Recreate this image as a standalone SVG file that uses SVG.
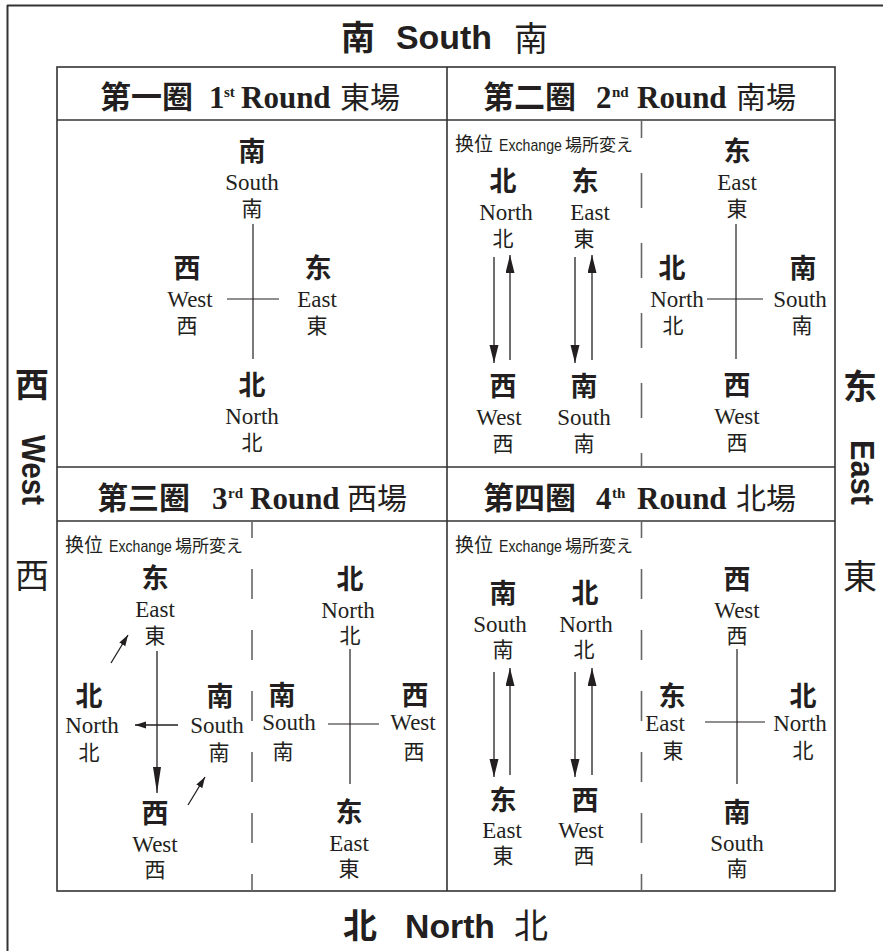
<svg xmlns="http://www.w3.org/2000/svg" width="883" height="951" viewBox="0 0 883 951">
<style>
text{fill:#231f20}
.b{font-family:"Noto Sans CJK SC","Noto Sans CJK JP",sans-serif;font-weight:700;font-size:27px;text-anchor:middle}
.e{font-family:"Liberation Serif",serif;font-size:23px;text-anchor:middle}
.r{font-family:"Noto Sans CJK JP",sans-serif;font-size:21px;text-anchor:middle}
.hc{font-family:"Noto Sans CJK SC",sans-serif;font-weight:700;font-size:31px}
.hs{font-family:"Liberation Serif",serif;font-weight:700;font-size:31px}
.hu{font-family:"Liberation Serif",serif;font-weight:700;font-size:15px}
.hj{font-family:"Noto Sans CJK JP",sans-serif;font-size:30px}
.xc{font-family:"Noto Sans CJK SC",sans-serif;font-size:19px}
.xe{font-family:"Liberation Sans",sans-serif;font-size:17px}
.xj{font-family:"Noto Sans CJK JP",sans-serif;font-size:17px}
.ob{font-family:"Noto Sans CJK SC",sans-serif;font-weight:700;font-size:34px;text-anchor:middle}
.or{font-family:"Noto Sans CJK JP",sans-serif;font-size:34px;text-anchor:middle}
.oe{font-family:"Liberation Sans",sans-serif;font-weight:700;font-size:34px}
.frame{stroke:#333;stroke-width:2;fill:none}
.grid{stroke:#333;stroke-width:1.6;fill:none}
.cross{stroke:#231f20;stroke-width:1.2;fill:none}
.dash{stroke:#666;stroke-width:1.6;fill:none}
.arr{stroke:#231f20;stroke-width:1.3;fill:none}
</style>
<defs>
<marker id="ah" markerUnits="userSpaceOnUse" markerWidth="18" markerHeight="10" refX="18" refY="4.5" orient="auto"><path d="M0,0 L18,4.5 L0,9 z" fill="#231f20"/></marker>
<marker id="ahl" markerUnits="userSpaceOnUse" markerWidth="26" markerHeight="9" refX="26" refY="4" orient="auto"><path d="M0,0 L26,4 L0,8 z" fill="#231f20"/></marker>
<marker id="ahs" markerUnits="userSpaceOnUse" markerWidth="11" markerHeight="8" refX="11" refY="3.5" orient="auto"><path d="M0,0 L11,3.5 L0,7 z" fill="#231f20"/></marker>
</defs>

<g id="frame">
<line class="frame" x1="7" y1="5.5" x2="883" y2="5.5"/>
<line class="frame" x1="7.5" y1="5" x2="7.5" y2="951"/>
<rect class="grid" x="57" y="67" width="778" height="824"/>
<line class="grid" x1="57" y1="120" x2="835" y2="120"/>
<line class="grid" x1="57" y1="467" x2="835" y2="467"/>
<line class="grid" x1="57" y1="521" x2="835" y2="521"/>
<line class="grid" x1="447" y1="67" x2="447" y2="891"/>
<line class="dash" x1="641.5" y1="120" x2="641.5" y2="467" stroke-dasharray="35 35" stroke-dashoffset="17"/>
<line class="dash" x1="252" y1="521" x2="252" y2="891" stroke-dasharray="30 31" stroke-dashoffset="13"/>
<line class="dash" x1="641.5" y1="521" x2="641.5" y2="891" stroke-dasharray="30 31" stroke-dashoffset="13"/>
</g>

<g id="outer-labels">
<g id="top-label">
<text class="ob" x="358" y="50">南</text>
<text class="oe" x="396" y="49" textLength="96" lengthAdjust="spacingAndGlyphs">South</text>
<text class="or" x="531" y="51">南</text>
</g>
<g id="bottom-label">
<text class="ob" x="360" y="938">北</text>
<text class="oe" x="405" y="938" textLength="90" lengthAdjust="spacingAndGlyphs">North</text>
<text class="or" x="531" y="938">北</text>
</g>
<g id="left-label">
<text class="ob" x="32" y="397">西</text>
<text class="oe" transform="translate(21.5,435) rotate(90)" textLength="70" lengthAdjust="spacingAndGlyphs">West</text>
<text class="or" x="32" y="588">西</text>
</g>
<g id="right-label">
<text class="ob" x="860" y="399">东</text>
<text class="oe" transform="translate(850.5,440) rotate(90)" textLength="65" lengthAdjust="spacingAndGlyphs">East</text>
<text class="or" x="860" y="589">東</text>
</g>
</g>

<g id="headers">
<text id="h1" y="108"><tspan class="hc" x="100">第一圈</tspan><tspan class="hs" x="209">1</tspan><tspan class="hu" x="224" dy="-11">st</tspan><tspan class="hs" x="241" dy="11">Round</tspan><tspan class="hj" x="340">東場</tspan></text>
<text id="h2" y="108"><tspan class="hc" x="483">第二圈</tspan><tspan class="hs" x="596">2</tspan><tspan class="hu" x="612" dy="-11">nd</tspan><tspan class="hs" x="637" dy="11">Round</tspan><tspan class="hj" x="736">南場</tspan></text>
<text id="h3" y="509"><tspan class="hc" x="97">第三圈</tspan><tspan class="hs" x="212">3</tspan><tspan class="hu" x="228" dy="-11">rd</tspan><tspan class="hs" x="250" dy="11">Round</tspan><tspan class="hj" x="347">西場</tspan></text>
<text id="h4" y="509"><tspan class="hc" x="483">第四圈</tspan><tspan class="hs" x="596">4</tspan><tspan class="hu" x="612" dy="-11">th</tspan><tspan class="hs" x="637" dy="11">Round</tspan><tspan class="hj" x="736">北場</tspan></text>
</g>

<g id="exchange-labels">
<text y="151"><tspan class="xc" x="455">换位</tspan><tspan class="xe" x="499" textLength="63" lengthAdjust="spacingAndGlyphs">Exchange</tspan><tspan class="xj" x="565">場所変え</tspan></text>
<text y="552"><tspan class="xc" x="65">换位</tspan><tspan class="xe" x="109" textLength="63" lengthAdjust="spacingAndGlyphs">Exchange</tspan><tspan class="xj" x="175">場所変え</tspan></text>
<text y="552"><tspan class="xc" x="455">换位</tspan><tspan class="xe" x="499" textLength="63" lengthAdjust="spacingAndGlyphs">Exchange</tspan><tspan class="xj" x="565">場所変え</tspan></text>
</g>

<g id="connectors">
<line class="cross" x1="253" y1="224" x2="253" y2="359"/>
<line class="cross" x1="227" y1="299" x2="279" y2="299"/>
<line class="cross" x1="736" y1="224" x2="736" y2="359"/>
<line class="cross" x1="707" y1="299" x2="763" y2="299"/>
<line class="cross" x1="350" y1="649" x2="350" y2="784"/>
<line class="cross" x1="328" y1="724" x2="379" y2="724"/>
<line class="cross" x1="737" y1="649" x2="737" y2="784"/>
<line class="cross" x1="705" y1="722" x2="765" y2="722"/>
<line class="arr" x1="494" y1="257" x2="494" y2="363" marker-end="url(#ah)"/>
<line class="arr" x1="510" y1="360" x2="510" y2="255" marker-end="url(#ah)"/>
<line class="arr" x1="575" y1="257" x2="575" y2="363" marker-end="url(#ah)"/>
<line class="arr" x1="592" y1="360" x2="592" y2="255" marker-end="url(#ah)"/>
<line class="arr" x1="494" y1="672" x2="494" y2="777" marker-end="url(#ah)"/>
<line class="arr" x1="510" y1="775" x2="510" y2="668" marker-end="url(#ah)"/>
<line class="arr" x1="575" y1="672" x2="575" y2="777" marker-end="url(#ah)"/>
<line class="arr" x1="592" y1="775" x2="592" y2="668" marker-end="url(#ah)"/>
<line class="arr" x1="157" y1="651" x2="157" y2="793" marker-end="url(#ahl)"/>
<line class="arr" x1="178" y1="725" x2="135" y2="725" marker-end="url(#ahs)"/>
<line class="arr" x1="111" y1="663" x2="128" y2="635" marker-end="url(#ahs)"/>
<line class="arr" x1="188" y1="805" x2="205" y2="777" marker-end="url(#ahs)"/>
</g>

<g id="q1-s"><text class="b" x="252" y="161">南</text><text class="e" x="252" y="190">South</text><text class="r" x="252" y="216">南</text></g>
<g id="q1-w"><text class="b" x="187" y="278">西</text><text class="e" x="190" y="307">West</text><text class="r" x="187" y="333">西</text></g>
<g id="q1-e"><text class="b" x="318" y="278">东</text><text class="e" x="317" y="307">East</text><text class="r" x="317" y="333">東</text></g>
<g id="q1-n"><text class="b" x="252" y="395">北</text><text class="e" x="252" y="424">North</text><text class="r" x="252" y="450">北</text></g>

<g id="q2-n"><text class="b" x="503" y="191">北</text><text class="e" x="506" y="220">North</text><text class="r" x="503" y="246">北</text></g>
<g id="q2-e"><text class="b" x="585" y="191">东</text><text class="e" x="590" y="220">East</text><text class="r" x="584" y="246">東</text></g>
<g id="q2-w"><text class="b" x="503" y="396">西</text><text class="e" x="499" y="425">West</text><text class="r" x="503" y="451">西</text></g>
<g id="q2-s"><text class="b" x="584" y="396">南</text><text class="e" x="584" y="425">South</text><text class="r" x="584" y="451">南</text></g>

<g id="q2r-e"><text class="b" x="737" y="161">东</text><text class="e" x="737" y="190">East</text><text class="r" x="737" y="216">東</text></g>
<g id="q2r-n"><text class="b" x="672" y="278">北</text><text class="e" x="677" y="307">North</text><text class="r" x="673" y="333">北</text></g>
<g id="q2r-s"><text class="b" x="803" y="278">南</text><text class="e" x="800" y="307">South</text><text class="r" x="802" y="333">南</text></g>
<g id="q2r-w"><text class="b" x="737" y="395">西</text><text class="e" x="737" y="424">West</text><text class="r" x="737" y="450">西</text></g>

<g id="q3-e"><text class="b" x="155" y="588">东</text><text class="e" x="155" y="617">East</text><text class="r" x="155" y="643">東</text></g>
<g id="q3-n"><text class="b" x="89" y="706">北</text><text class="e" x="92" y="733">North</text><text class="r" x="89" y="760">北</text></g>
<g id="q3-s"><text class="b" x="220" y="706">南</text><text class="e" x="217" y="733">South</text><text class="r" x="219" y="760">南</text></g>
<g id="q3-w"><text class="b" x="155" y="823">西</text><text class="e" x="155" y="852">West</text><text class="r" x="155" y="877">西</text></g>

<g id="q3r-n"><text class="b" x="350" y="589">北</text><text class="e" x="348" y="618">North</text><text class="r" x="350" y="643">北</text></g>
<g id="q3r-s"><text class="b" x="282" y="705">南</text><text class="e" x="289" y="730">South</text><text class="r" x="283" y="759">南</text></g>
<g id="q3r-w"><text class="b" x="415" y="705">西</text><text class="e" x="413" y="730">West</text><text class="r" x="414" y="759">西</text></g>
<g id="q3r-e"><text class="b" x="349" y="822">东</text><text class="e" x="349" y="851">East</text><text class="r" x="349" y="876">東</text></g>

<g id="q4-s"><text class="b" x="503" y="603">南</text><text class="e" x="500" y="632">South</text><text class="r" x="503" y="657">南</text></g>
<g id="q4-n"><text class="b" x="585" y="603">北</text><text class="e" x="586" y="632">North</text><text class="r" x="584" y="657">北</text></g>
<g id="q4-e"><text class="b" x="503" y="810">东</text><text class="e" x="502" y="838">East</text><text class="r" x="503" y="863">東</text></g>
<g id="q4-w"><text class="b" x="585" y="810">西</text><text class="e" x="581" y="838">West</text><text class="r" x="584" y="863">西</text></g>

<g id="q4r-w"><text class="b" x="737" y="589">西</text><text class="e" x="737" y="618">West</text><text class="r" x="737" y="643">西</text></g>
<g id="q4r-e"><text class="b" x="672" y="706">东</text><text class="e" x="665" y="731">East</text><text class="r" x="673" y="758">東</text></g>
<g id="q4r-n"><text class="b" x="803" y="706">北</text><text class="e" x="800" y="731">North</text><text class="r" x="803" y="758">北</text></g>
<g id="q4r-s"><text class="b" x="737" y="822">南</text><text class="e" x="737" y="851">South</text><text class="r" x="737" y="876">南</text></g>
</svg>
